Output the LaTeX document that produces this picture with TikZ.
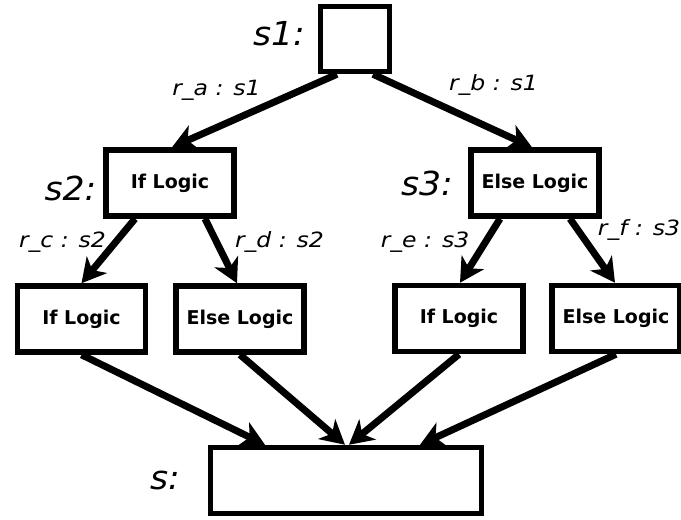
\documentclass[tikz,border=0pt]{standalone}
\usepackage{fontspec}
\setmainfont{DejaVu Sans}
\newfontfamily\statefont[FakeStretch=1.05]{DejaVu Sans}
\newfontfamily\rulefont[FakeStretch=1.12]{DejaVu Sans}
\usetikzlibrary{arrows.meta}

\begin{document}
\begin{tikzpicture}[x=1pt, y=1pt,
    logic/.style = {shape=rectangle, draw, line width=5.5pt, minimum width=128pt, minimum height=66pt, inner sep=0pt, font=\bfseries\fontsize{19}{19}\selectfont},
    state/.style = {inner sep=0pt, font=\statefont\itshape\fontsize{33}{33}\selectfont},
    rule/.style = {inner sep=0pt, font=\rulefont\itshape\fontsize{21}{21}\selectfont},
    flow/.style = {line width=7pt, -{Stealth[length=24pt, width=26pt, inset=7pt]}}]
    \useasboundingbox (0,0) rectangle (681,520);

    \node[logic, minimum width=69pt, minimum height=65pt] (s1) at (355,481) {};
    \node[logic] (s2) at (170,337) {If Logic};
    \node[logic] (s3) at (535,337) {Else Logic};
    \node[logic] (s2if) at (81.5,201) {If Logic};
    \node[logic] (s2else) at (240,201) {Else Logic};
    \node[logic] (s3if) at (459,201.5) {If Logic};
    \node[logic] (s3else) at (616,201.5) {Else Logic};
    \node[logic, minimum width=271pt] (s) at (346,39.5) {};

    \node[state] (s1label) at (279,486) {s1:};
    \node[state] (s2label) at (70.5,332) {s2:};
    \node[state] (s3label) at (427,337) {s3:};
    \node[state] (slabel) at (165,40) {s:};

    \node[rule] (ra) at (216.5,430) {r\_a : s1};
    \node[rule] (rb) at (493.5,435) {r\_b : s1};
    \node[rule] (rc) at (62.5,278) {r\_c : s2};
    \node[rule] (rd) at (279.5,278) {r\_d : s2};
    \node[rule] (re) at (425,278) {r\_e : s3};
    \node[rule] (rf) at (639,290) {r\_f : s3};

    \draw[flow] ([xshift=-18pt]s1.south) -- ([xshift=2pt]s2.north);
    \draw[flow] ([xshift=18pt]s1.south) -- ([xshift=-3pt]s3.north);
    \draw[flow] ([xshift=-35pt]s2.south) -- (s2if.north);
    \draw[flow] ([xshift=35pt]s2.south) -- ([xshift=-3pt]s2else.north);
    \draw[flow] ([xshift=-35pt]s3.south) -- ([xshift=1pt]s3if.north);
    \draw[flow] ([xshift=35pt]s3.south) -- ([xshift=-1pt]s3else.north);
    \draw[flow] (s2if.south) -- ([xshift=-81pt]s.north);
    \draw[flow] (s2else.south) -- ([xshift=-1pt]s.north);
    \draw[flow] (s3if.south) -- ([xshift=3pt]s.north);
    \draw[flow] (s3else.south) -- ([xshift=74pt]s.north);
\end{tikzpicture}
\end{document}
